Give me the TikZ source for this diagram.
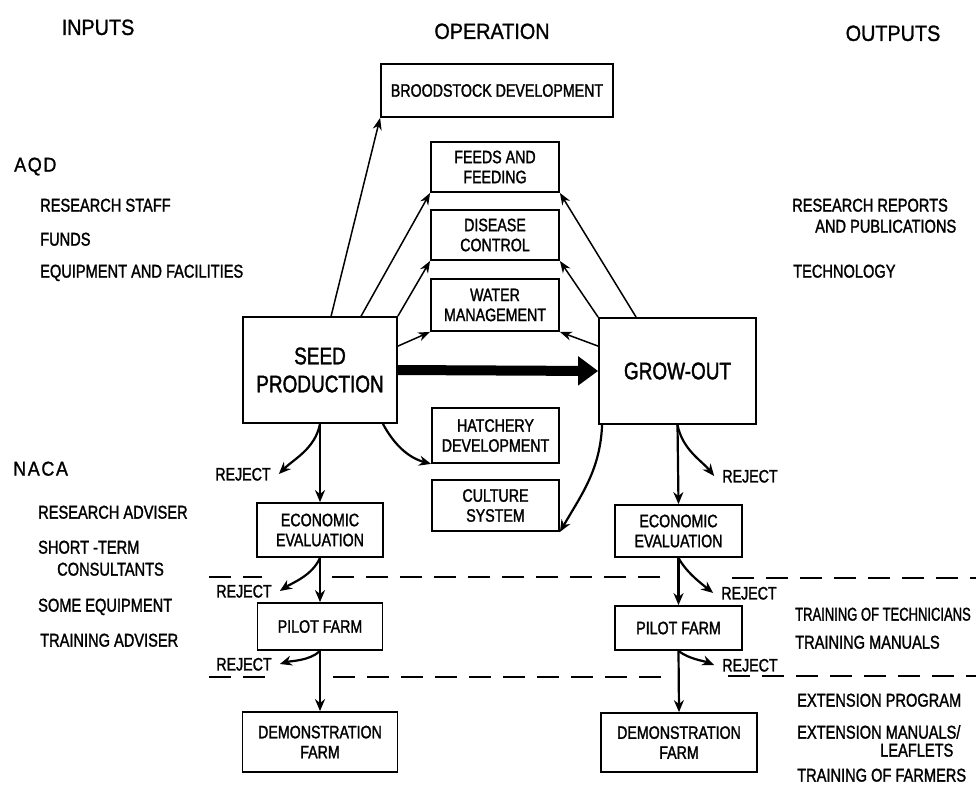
\documentclass[tikz,border=0pt]{standalone}
\usepackage{fontspec}
\setmainfont{Liberation Sans}[FakeStretch=0.79,FakeBold=1.5]
\newfontfamily\headfont{Liberation Sans}[FakeStretch=0.9,FakeBold=1.2]
\newfontfamily\orgfont{Liberation Sans}[FakeStretch=0.9,FakeBold=1.2,LetterSpace=8]
\usetikzlibrary{arrows.meta,calc}
\tikzset{
  box/.style={draw, line width=1.8pt, inner sep=0pt, align=center, font=\fontsize{18}{20}\selectfont},
  bigbox/.style={box, font=\fontsize{24}{28}\selectfont},
  txt/.style={inner sep=0pt, anchor=west, font=\fontsize{18.5}{18.5}\selectfont, text height=13.2pt, text depth=0pt},
  org/.style={txt, font=\orgfont\fontsize{20}{20}\selectfont},
  head/.style={inner sep=0pt, font=\headfont\fontsize{22}{22}\selectfont, text height=15.8pt, text depth=0pt},
  rej/.style={inner ysep=0pt, inner xsep=8pt, font=\fontsize{18}{18}\selectfont, text height=12.9pt, text depth=0pt},
  arr/.style={line width=1.5pt, -{Stealth[length=12pt,width=9pt]}},
  carr/.style={line width=2.2pt, -{Stealth[length=12pt,width=10pt]}},
  dashline/.style={line width=1.6pt, dash pattern=on 22pt off 12pt},
}
\begin{document}
\begin{tikzpicture}[x=1pt,y=-1pt]
\useasboundingbox (0,0) rectangle (976,785);

% headings
\node[head] (hin) at (98,27) {INPUTS};
\node[head] (hop) at (492,31) {OPERATION};
\node[head] (hout) at (893,33) {OUTPUTS};

% inputs
\node[org] (aqd) at (14,165) {AQD};
\node[txt] (i1) at (40,205) {RESEARCH STAFF};
\node[txt] (i2) at (40,239) {FUNDS};
\node[txt] (i3) at (40,271) {EQUIPMENT AND FACILITIES};
\node[org] (naca) at (13,469) {NACA};
\node[txt] (n1) at (38,512) {RESEARCH ADVISER};
\node[txt] (n2) at (38,547) {SHORT -TERM};
\node[txt] (n3) at (57,569) {CONSULTANTS};
\node[txt] (n4) at (38,605) {SOME EQUIPMENT};
\node[txt] (n5) at (40,640) {TRAINING ADVISER};

% outputs
\node[txt] (o1) at (792,205) {RESEARCH REPORTS};
\node[txt] (o2) at (815,226) {AND PUBLICATIONS};
\node[txt] (o3) at (793,271) {TECHNOLOGY};
\node[txt] (o4) at (795,614) {\scalebox{0.89}[1]{TRAINING OF TECHNICIANS}};
\node[txt] (o5) at (795,642) {TRAINING MANUALS};
\node[txt] (o6) at (797,700) {EXTENSION PROGRAM};
\node[txt] (o7) at (797,732) {EXTENSION MANUALS/};
\node[txt] (o8) at (880,750) {LEAFLETS};
\node[txt] (o9) at (797,775) {TRAINING OF FARMERS};

% operation boxes
\node[box, minimum width=232, minimum height=53] (brood) at (497,90.5) {BROODSTOCK DEVELOPMENT};
\node[box, minimum width=128, minimum height=50] (feeds) at (495,167) {FEEDS AND\\FEEDING};
\node[box, minimum width=128, minimum height=50] (disease) at (495,235) {DISEASE\\CONTROL};
\node[box, minimum width=128, minimum height=52] (water) at (495,305) {WATER\\MANAGEMENT};
\node[bigbox, minimum width=154, minimum height=106] (seed) at (320,370) {SEED\\PRODUCTION};
\node[bigbox, minimum width=157, minimum height=106] (grow) at (677.5,371) {GROW-OUT};
\node[box, minimum width=127, minimum height=55] (hatch) at (495.5,435.5) {HATCHERY\\DEVELOPMENT};
\node[box, minimum width=127, minimum height=51] (culture) at (495.5,505.5) {CULTURE\\SYSTEM};

\node[box, minimum width=126, minimum height=54] (econL) at (320,530) {ECONOMIC\\EVALUATION};
\node[box, minimum width=125, minimum height=47] (pilotL) at (320,626.5) {PILOT FARM};
\node[box, minimum width=155, minimum height=60] (demoL) at (320,742) {DEMONSTRATION\\FARM};
\node[box, minimum width=127, minimum height=52] (econR) at (678.5,531) {ECONOMIC\\EVALUATION};
\node[box, minimum width=127, minimum height=44] (pilotR) at (678.5,628) {PILOT FARM};
\node[box, minimum width=156, minimum height=59] (demoR) at (679,742.5) {DEMONSTRATION\\FARM};

% reject labels
\node[rej] (rejS1) at (243,474) {REJECT};
\node[rej] (rejE1) at (244,591) {REJECT};
\node[rej] (rejP1) at (244,664) {REJECT};
\node[rej] (rejS2) at (750,476) {REJECT};
\node[rej] (rejE2) at (749,593) {REJECT};
\node[rej] (rejP2) at (750,665) {REJECT};

% dashed separators
\draw[dashline] (209,577) -- (262,577);
\draw[dashline] (332,577) -- (660,577);
\draw[dashline] (732,578) -- (976,578);
\draw[dashline] (209,677) -- (265,677);
\draw[dashline] (333,677) -- (662,677);
\draw[dashline] (728,676) -- (976,676);

% seed production to operation boxes
\draw[arr] ($(seed.north west)+(89,0)$) -- (brood.south west);
\draw[arr] ($(seed.north west)+(119,0)$) -- (feeds.south west);
\draw[arr] (seed.north east) -- (disease.south west);
\draw[arr] ($(seed.north east)+(0,30)$) -- (water.south west);
\draw[carr] ($(seed.south east)+(-15,0)$) .. controls +(12,22) and +(-22,-6) .. (hatch.south west);

% grow-out to operation boxes
\draw[arr] ($(grow.north west)+(38,0)$) -- (feeds.south east);
\draw[arr] (grow.north west) -- (disease.south east);
\draw[arr] ($(grow.north west)+(0,29)$) -- (water.south east);
\draw[carr] ($(grow.south west)+(4,0)$) .. controls +(-2,45) and +(22,-38) .. (culture.south east);

% main flow
\draw[line width=10pt, -{Triangle[length=20pt,width=28pt]}] (seed.east) -- (grow.west);

% left chain
\draw[carr] (seed.south) -- (econL.north);
\draw[carr] (econL.south) -- (pilotL.north);
\draw[carr] (pilotL.south) -- (demoL.north);
\draw[carr] (seed.south) .. controls +(-5,25) and +(15,-15) .. (rejS1.east);
\draw[carr] (econL.south) .. controls +(-8,18) and +(12,-8) .. (rejE1.east);
\draw[carr] (pilotL.south) .. controls +(-10,10) and +(10,-3) .. (rejP1.east);

% right chain
\draw[carr] (grow.south) -- (econR.north);
\draw[carr] (econR.south) -- (pilotR.north);
\draw[carr] (pilotR.south) -- (demoR.north);
\draw[carr] (grow.south) .. controls +(5,25) and +(-12,-15) .. (rejS2.west);
\draw[carr] (econR.south) .. controls +(8,15) and +(-10,-8) .. (rejE2.west);
\draw[carr] (pilotR.south) .. controls +(10,8) and +(-10,-4) .. (rejP2.west);
\end{tikzpicture}
\end{document}
